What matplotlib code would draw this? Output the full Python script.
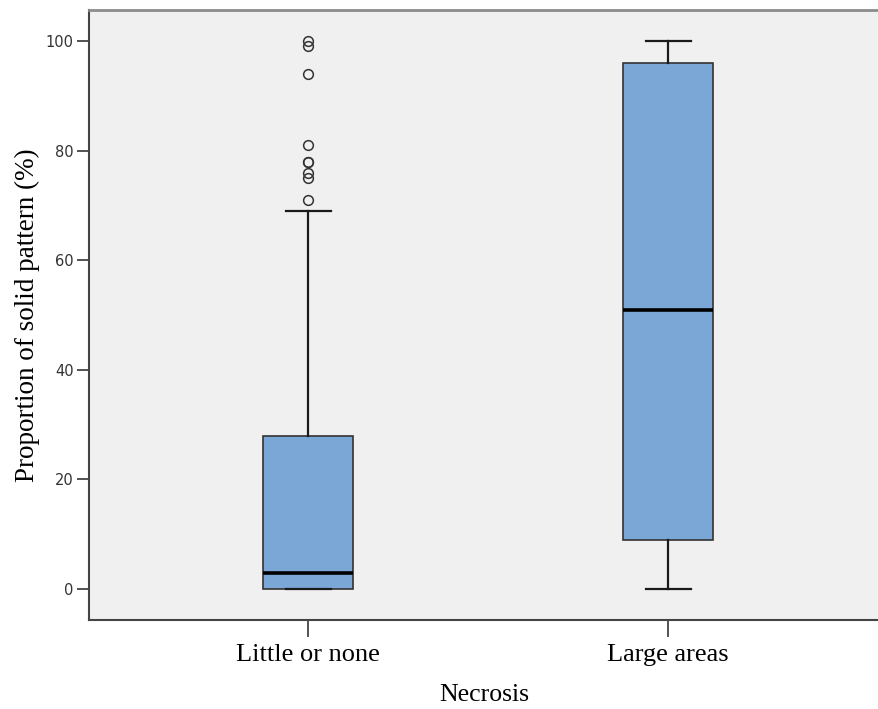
import numpy as np
import matplotlib
matplotlib.use("Agg")
import matplotlib.pyplot as plt

# box statistics
groups = ["Little or none", "Large areas"]
q1 = [0, 9]
median = [3, 51]
q3 = [28, 96]
whisker_low = [0, 0]
whisker_high = [69, 100]
outliers = [[71, 75, 76, 78, 78, 81, 94, 99, 100], []]

yticks = [0, 20, 40, 60, 80, 100]

stats = []
for i, name in enumerate(groups):
    stats.append({
        "label": name,
        "q1": q1[i],
        "med": median[i],
        "q3": q3[i],
        "whislo": whisker_low[i],
        "whishi": whisker_high[i],
        "fliers": outliers[i],
    })

fig = plt.figure(figsize=(8.79, 7.09), dpi=100)
ax = fig.add_axes([0.1013, 0.1255, 0.8987, 0.8604])
ax.set_facecolor("#f0f0f0")

ax.bxp(
    stats,
    positions=[1, 2],
    widths=0.25,
    patch_artist=True,
    boxprops=dict(facecolor="#7ba7d6", edgecolor="#333333", linewidth=1.2),
    medianprops=dict(color="black", linewidth=2.6),
    whiskerprops=dict(color="#1a1a1a", linewidth=1.6),
    capprops=dict(color="#1a1a1a", linewidth=1.6),
    capwidths=0.125,
    flierprops=dict(marker="o", markersize=7, markerfacecolor="none",
                    markeredgecolor="#333333", markeredgewidth=1.1),
)

ax.set_xlim(0.3917, 2.586)
ax.set_ylim(-5.66, 105.66)
ax.set_yticks(yticks)
ax.set_yticklabels([str(t) for t in yticks],
                   family=["Liberation Sans Narrow", "DejaVu Sans"], fontsize=10.5,
                   color="#333333")
ax.set_xticks([1, 2])
ax.set_xticklabels(groups, family="Liberation Serif", fontsize=19)
ax.tick_params(axis="y", length=9, width=1.3, color="#444444", pad=2)
ax.tick_params(axis="x", length=12, width=1.3, color="#444444", pad=5)

for side in ["left", "bottom"]:
    ax.spines[side].set_color("#444444")
    ax.spines[side].set_linewidth(1.5)
ax.spines["top"].set_color("#8c8c8c")
ax.spines["top"].set_linewidth(2)
ax.spines["right"].set_visible(False)

ax.set_ylabel("Proportion of solid pattern (%)", family="Liberation Serif",
              fontsize=19.5, labelpad=4)
ax.set_xlabel("Necrosis", family="Liberation Serif", fontsize=18.5, labelpad=13)

fig.savefig("out.png", dpi=100)
